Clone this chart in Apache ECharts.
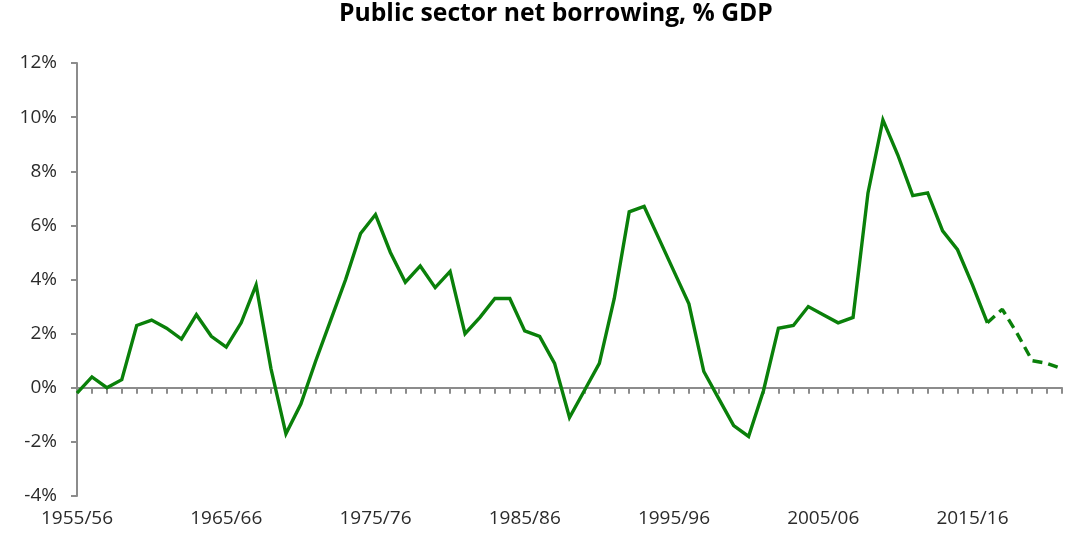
<!DOCTYPE html>
<html>
<head>
<meta charset="utf-8">
<script src="https://cdn.jsdelivr.net/npm/echarts@6/dist/echarts.min.js"></script>
<style>
html,body{margin:0;padding:0;background:#fff;}
#chart{width:1078px;height:535px;}
</style>
</head>
<body>
<div id="chart"></div>
<script>
const years = [
  "1955/56","1956/57","1957/58","1958/59","1959/60","1960/61","1961/62","1962/63","1963/64","1964/65",
  "1965/66","1966/67","1967/68","1968/69","1969/70","1970/71","1971/72","1972/73","1973/74","1974/75",
  "1975/76","1976/77","1977/78","1978/79","1979/80","1980/81","1981/82","1982/83","1983/84","1984/85",
  "1985/86","1986/87","1987/88","1988/89","1989/90","1990/91","1991/92","1992/93","1993/94","1994/95",
  "1995/96","1996/97","1997/98","1998/99","1999/00","2000/01","2001/02","2002/03","2003/04","2004/05",
  "2005/06","2006/07","2007/08","2008/09","2009/10","2010/11","2011/12","2012/13","2013/14","2014/15",
  "2015/16","2016/17","2017/18","2018/19","2019/20","2020/21","2021/22"
];
// Outturn, % GDP
const actual = [
  -0.2, 0.4, 0.0, 0.3, 2.3, 2.5, 2.2, 1.8, 2.7, 1.9,
   1.5, 2.4, 3.8, 0.7, -1.7, -0.6, 1.0, 2.5, 4.0, 5.7,
   6.4, 5.0, 3.9, 4.5, 3.7, 4.3, 2.0, 2.6, 3.3, 3.3,
   2.1, 1.9, 0.9, -1.1, -0.1, 0.9, 3.3, 6.5, 6.7, 5.5,
   4.3, 3.1, 0.6, -0.4, -1.4, -1.8, -0.1, 2.2, 2.3, 3.0,
   2.7, 2.4, 2.6, 7.2, 9.9, 8.6, 7.1, 7.2, 5.8, 5.1,
   3.8, 2.4, null, null, null, null, null
];
// Forecast, % GDP
const forecast = [
  null, null, null, null, null, null, null, null, null, null,
  null, null, null, null, null, null, null, null, null, null,
  null, null, null, null, null, null, null, null, null, null,
  null, null, null, null, null, null, null, null, null, null,
  null, null, null, null, null, null, null, null, null, null,
  null, null, null, null, null, null, null, null, null, null,
  null, 2.4, 2.9, 2.0, 1.0, 0.9, 0.7
];
const yTicks = { min: -4, max: 12, interval: 2 };

const FONT = '"Open Sans", "Noto Sans", sans-serif';
const axisGrey = '#8c8c8c';
const green = '#0a800a';

const chart = echarts.init(document.getElementById('chart'), null, { renderer: 'canvas' });
chart.setOption({
  animation: false,
  backgroundColor: '#ffffff',
  title: {
    text: 'Public sector net borrowing, % GDP',
    left: 339,
    top: 0,
    padding: [1, 0, 0, 0],
    textStyle: { fontFamily: FONT, fontWeight: 'bold', fontSize: 24.7, color: '#000' }
  },
  grid: { left: 77, right: 16, top: 63, bottom: 39, containLabel: false },
  xAxis: [
    {
      type: 'category',
      data: years,
      boundaryGap: false,
      position: 'bottom',
      axisLine: { show: false, onZero: false },
      axisTick: { show: false },
      splitLine: { show: false },
      axisLabel: {
        interval: 9,
        margin: 13,
        fontFamily: FONT,
        fontSize: 19,
        color: '#2b2b2b'
      }
    },
    {
      type: 'category',
      data: years,
      boundaryGap: false,
      position: 'top',
      axisLine: { show: true, onZero: true, lineStyle: { color: axisGrey, width: 2 } },
      axisTick: { show: true, inside: true, length: 6, interval: 0, lineStyle: { color: axisGrey, width: 2 } },
      axisLabel: { show: false },
      splitLine: { show: false }
    }
  ],
  yAxis: {
    type: 'value',
    min: yTicks.min,
    max: yTicks.max,
    interval: yTicks.interval,
    axisLine: { show: true, lineStyle: { color: axisGrey, width: 2 } },
    axisTick: { show: true, length: 6, lineStyle: { color: axisGrey, width: 2 } },
    splitLine: { show: false },
    axisLabel: {
      formatter: '{value}%',
      margin: 20,
      fontFamily: FONT,
      fontSize: 19,
      color: '#2b2b2b'
    }
  },
  series: [
    {
      name: 'Outturn',
      type: 'line',
      xAxisIndex: 0,
      data: actual,
      showSymbol: false,
      symbol: 'none',
      lineStyle: { color: green, width: 3.4, join: 'miter' },
      connectNulls: false
    },
    {
      name: 'Forecast',
      type: 'line',
      xAxisIndex: 0,
      data: forecast,
      showSymbol: false,
      symbol: 'none',
      lineStyle: { color: green, width: 3.4, type: [10, 6] },
      connectNulls: false
    }
  ]
});
</script>
</body>
</html>
